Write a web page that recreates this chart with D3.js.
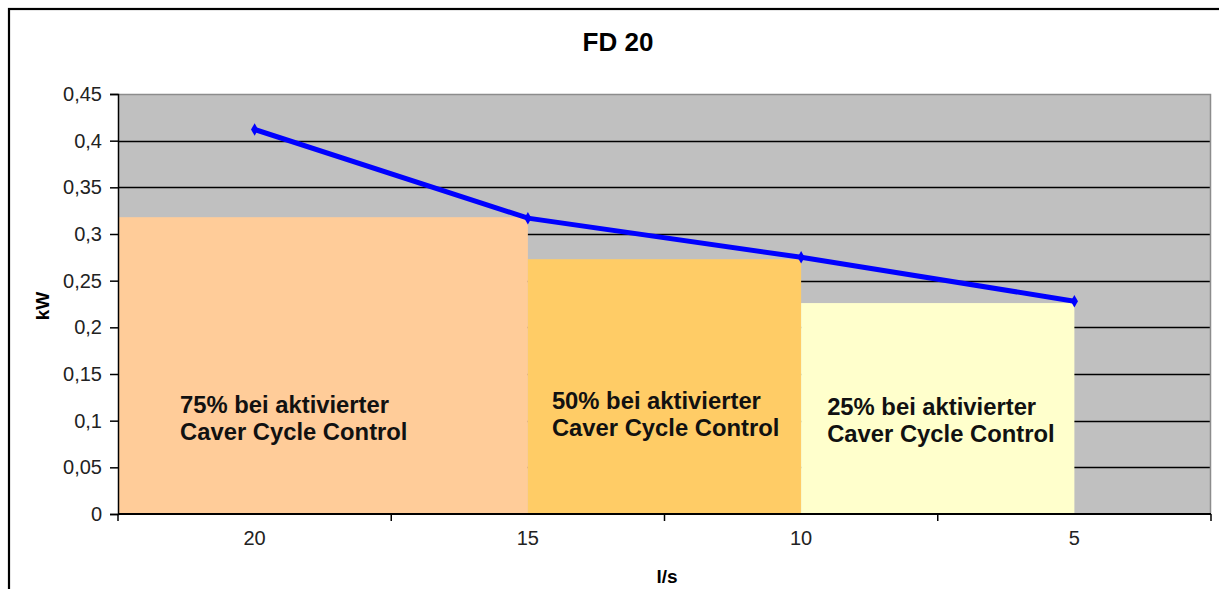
<!DOCTYPE html>
<html>
<head>
<meta charset="utf-8">
<script src="https://cdn.jsdelivr.net/npm/d3@7"></script>
<style>
  body { margin: 0; background: #fff; }
  svg { display: block; font-family: "Liberation Sans", Arial, sans-serif; }
</style>
</head>
<body>
<div id="chart"></div>
<script>
// data
const categories = ["20", "15", "10", "5"]
const power = [0.412, 0.317, 0.275, 0.228]
const yTicks = [0, 0.05, 0.1, 0.15, 0.2, 0.25, 0.3, 0.35, 0.4, 0.45]
const regionEnd = ["15", "10", "5"]
const regionTop = [0.318, 0.273, 0.226]
const regionColors = ["#FFCC99", "#FFCC66", "#FFFFCC"]
const regionLines = [
    ["75% bei aktivierter", "Caver Cycle Control"],
    ["50% bei aktivierter", "Caver Cycle Control"],
    ["25% bei aktivierter", "Caver Cycle Control"]
]
// label placement (px from region start, value on y)
const labelDx = [62, 24, 26]
const labelY = [0.108, 0.1125, 0.106]

const width = 1219
const height = 589
const margin = {top: 94, left: 118, right: 8, bottom: 75}
const innerW = width - margin.left - margin.right
const innerH = height - margin.top - margin.bottom

const svg = d3.select("div#chart").append("svg").attr("width", width).attr("height", height)

// outer frame (right / bottom edges fall outside the picture)
svg.append("rect")
    .attr("x", 9).attr("y", 9)
    .attr("width", width + 20).attr("height", height + 20)
    .attr("fill", "none").attr("stroke", "#000").attr("stroke-width", 2.2)

const g = svg.append("g").attr("transform", `translate(${margin.left}, ${margin.top})`)

const x = d3.scaleBand().domain(categories).range([0, innerW]).padding(0)
const y = d3.scaleLinear().domain([0, 0.45]).range([innerH, 0])
const cx = c => x(c) + x.bandwidth() / 2

// plot background
g.append("rect").attr("width", innerW).attr("height", innerH).attr("fill", "#C0C0C0")

// gridlines
g.append("g").selectAll("line").data(yTicks.filter(v => v > 0 && v < 0.45))
    .enter().append("line")
    .attr("x1", 0).attr("x2", innerW)
    .attr("y1", d => Math.round(y(d)) + 0.5).attr("y2", d => Math.round(y(d)) + 0.5)
    .attr("stroke", "#000").attr("stroke-width", 1.3)

// plot border top/right
g.append("path")
    .attr("d", `M0,0.5H${innerW - 0.5}V${innerH}`)
    .attr("fill", "none").attr("stroke", "#8c8c8c").attr("stroke-width", 1.5)

// regions
const regions = regionEnd.map((e, i) => ({
    x0: i === 0 ? 0 : cx(regionEnd[i - 1]),
    x1: cx(e),
    top: regionTop[i],
    color: regionColors[i],
    lines: regionLines[i],
    i: i
}))

g.append("g").selectAll("rect").data(regions).enter().append("rect")
    .attr("x", d => d.x0)
    .attr("y", d => y(d.top))
    .attr("width", d => d.x1 - d.x0)
    .attr("height", d => innerH - y(d.top))
    .attr("fill", d => d.color)

const labels = g.append("g").selectAll("text").data(regions).enter().append("text")
    .attr("x", d => d.x0 + labelDx[d.i])
    .attr("y", d => y(labelY[d.i]))
    .attr("font-size", 23.8).attr("font-weight", "bold").attr("fill", "#111")
labels.selectAll("tspan").data(d => d.lines.map(t => ({t: t, x: d.x0 + labelDx[d.i]})))
    .enter().append("tspan")
    .attr("x", d => d.x)
    .attr("dy", (d, j) => j === 0 ? 0 : 26.5)
    .text(d => d.t)

// line
const pts = categories.map((c, i) => ({c: c, v: power[i]}))
g.append("path").datum(pts)
    .attr("d", d3.line().x(d => cx(d.c)).y(d => y(d.v)))
    .attr("fill", "none").attr("stroke", "#0000FF").attr("stroke-width", 5)
g.append("g").selectAll("path").data(pts).enter().append("path")
    .attr("d", d3.symbol().type(d3.symbolDiamond).size(45))
    .attr("transform", d => `translate(${cx(d.c)}, ${y(d.v)})`)
    .attr("fill", "#0000FF")

// axes
const fmt = v => String(+v.toFixed(2)).replace(".", ",")
const yAxis = d3.axisLeft(y).tickValues(yTicks).tickFormat(fmt).tickSize(8).tickPadding(8)
const yAxisGroup = g.append("g").call(yAxis)
yAxisGroup.selectAll("text").attr("font-size", 20).attr("fill", "#222").attr("font-family", "Liberation Sans, Arial, sans-serif")
yAxisGroup.selectAll("line, path").attr("stroke", "#000").attr("stroke-width", 1.5)

const xAxis = d3.axisBottom(x).tickSize(0).tickPadding(17)
const xAxisGroup = g.append("g").attr("transform", `translate(0, ${innerH})`).call(xAxis)
xAxisGroup.select(".domain").remove()
xAxisGroup.selectAll("text").attr("font-size", 20).attr("fill", "#222").attr("font-family", "Liberation Sans, Arial, sans-serif")
xAxisGroup.append("line").attr("x1", 0).attr("x2", innerW).attr("y1", 0).attr("y2", 0)
    .attr("stroke", "#000").attr("stroke-width", 2)
xAxisGroup.selectAll(".bound").data(categories.map(c => x(c)).concat([innerW]))
    .enter().append("line").attr("class", "bound")
    .attr("x1", d => d).attr("x2", d => d).attr("y1", 0).attr("y2", 7)
    .attr("stroke", "#000").attr("stroke-width", 1.5)

// titles
svg.append("text").attr("x", 618).attr("y", 51).attr("text-anchor", "middle")
    .attr("font-size", 26).attr("font-weight", "bold").text("FD 20")
svg.append("text").attr("transform", "translate(49, 306) rotate(-90)").attr("text-anchor", "middle")
    .attr("font-size", 19).attr("font-weight", "bold").text("kW")
svg.append("text").attr("x", 667).attr("y", 583).attr("text-anchor", "middle")
    .attr("font-size", 19).attr("font-weight", "bold").text("l/s")
</script>
</body>
</html>
